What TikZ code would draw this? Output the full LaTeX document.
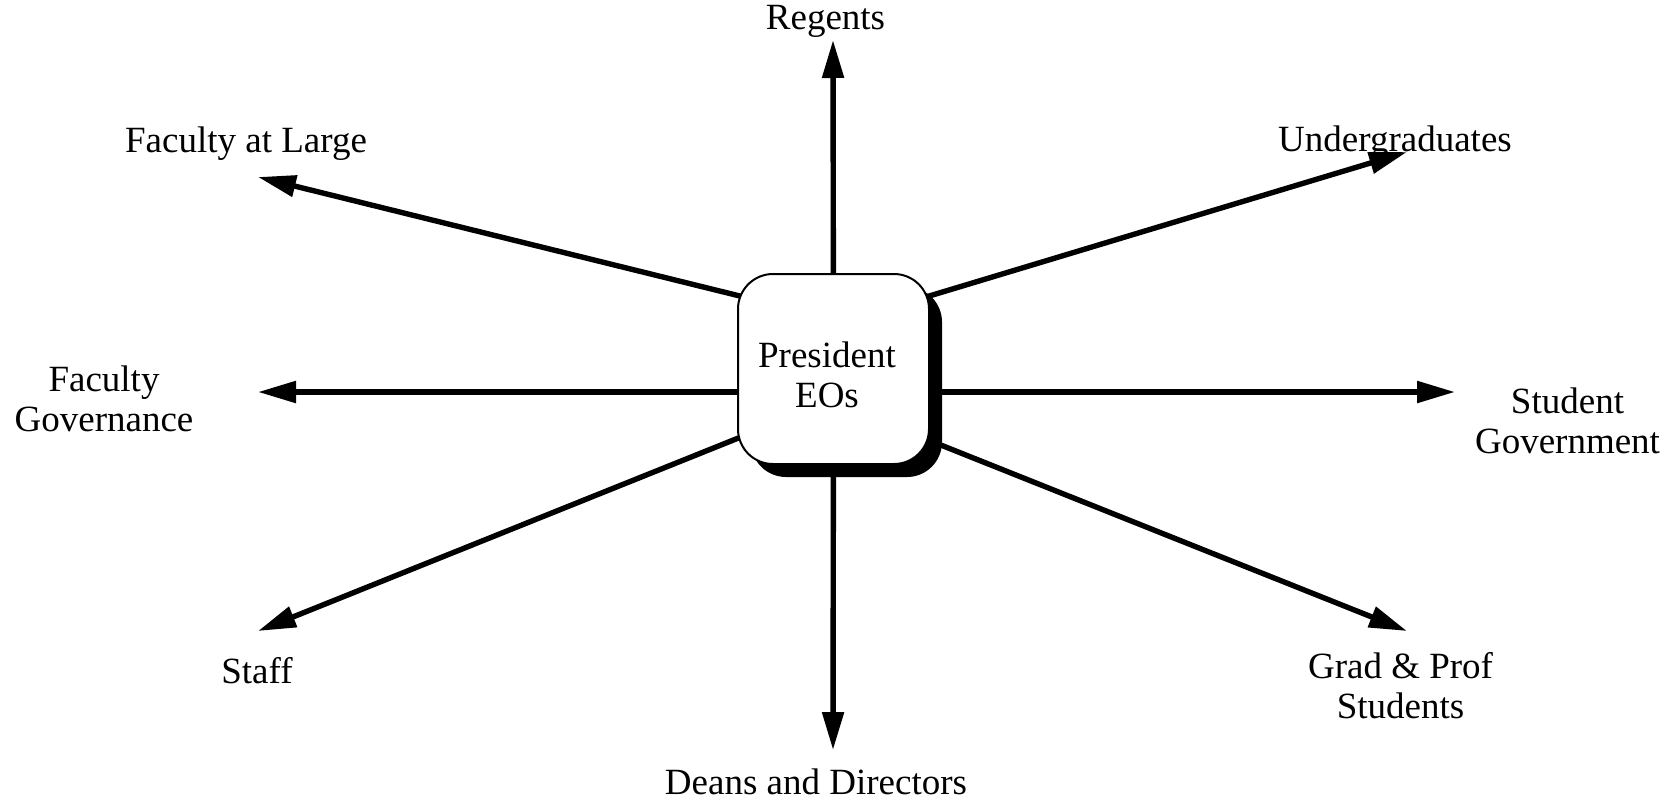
\documentclass[tikz,border=0pt]{standalone}
\usepackage{fontspec}
\setmainfont{Liberation Serif}
\usetikzlibrary{arrows.meta,shadows,backgrounds}
\begin{document}
\begin{tikzpicture}[x=0.5pt,y=-0.5pt,
  lbl/.style={font=\fontsize{18.5pt}{19.75pt}\selectfont, align=center, inner sep=0pt, anchor=base},
  spoke/.style={line width=2.7pt, -{Triangle[length=19pt,width=10.5pt]}},
  hub/.style={draw, line width=1pt, fill=white, rounded corners=17.5pt,
    minimum width=95.5pt, minimum height=95pt, inner sep=0pt,
    drop shadow={shadow xshift=6.5pt, shadow yshift=-6.5pt, fill=black, opacity=1}}]
\useasboundingbox (0,0) rectangle (1679,804);
% hub
\node[hub] (box) at (833.5,369) {};
% (base anchor of a multi-line node = baseline of its last line)
\node[lbl] (ptext) at (827,407) {President\\EOs};
% tips
\coordinate (tRE) at (833,40);
\coordinate (tDD) at (833,750);
\coordinate (tFL) at (258,177);
\coordinate (tUG) at (1407,152);
\coordinate (tFG) at (258,392);
\coordinate (tSG) at (1455,392);
\coordinate (tST) at (258,631);
\coordinate (tGP) at (1407,631);
% hidden start points inside the hub
\coordinate (sFL) at (833,319);
\coordinate (sUG) at (833,325);
\coordinate (sH) at (box.center |- tFG);
\coordinate (sST) at (833,400);
\coordinate (sGP) at (833,402);
\begin{pgfonlayer}{background}
\draw[spoke] (box.center) -- (tRE);
\draw[spoke] (box.center) -- (tDD);
\draw[spoke] (sFL) -- (tFL);
\draw[spoke] (sUG) -- (tUG);
\draw[spoke] (sH) -- (tFG);
\draw[spoke] (sH) -- (tSG);
\draw[spoke] (sST) -- (tST);
\draw[spoke] (sGP) -- (tGP);
\end{pgfonlayer}
% labels
\node[lbl] (lRE) at (825.5,29) {Regents};
\node[lbl] (lFL) at (246,152) {Faculty at Large};
\node[lbl] (lUG) at (1395,151) {Undergraduates};
\node[lbl] (lFG) at (104,431) {Faculty\\Governance};
\node[lbl] (lSG) at (1567.5,453) {Student\\Government};
\node[lbl] (lST) at (257,683) {Staff};
\node[lbl] (lGP) at (1400.5,718) {Grad \& Prof\\Students};
\node[lbl] (lDD) at (816,794) {Deans and Directors};
\end{tikzpicture}
\end{document}
